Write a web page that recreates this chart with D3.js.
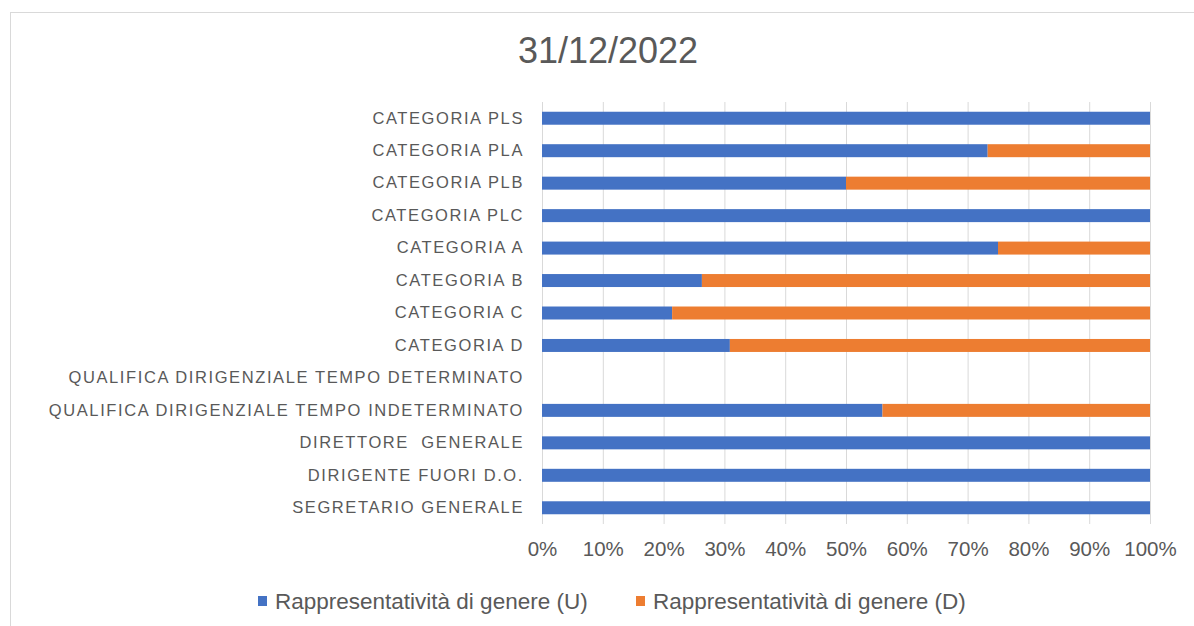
<!DOCTYPE html>
<html>
<head>
<meta charset="utf-8">
<script src="https://cdn.jsdelivr.net/npm/d3@7"></script>
<style>
  body { margin: 0; background: #fff; }
  svg { display: block; font-family: "Liberation Sans", Arial, sans-serif; }
</style>
</head>
<body>
<div id="chart"></div>
<script>
// categories, top to bottom
const categories = [
    "CATEGORIA PLS",
    "CATEGORIA PLA",
    "CATEGORIA PLB",
    "CATEGORIA PLC",
    "CATEGORIA A",
    "CATEGORIA B",
    "CATEGORIA C",
    "CATEGORIA D",
    "QUALIFICA DIRIGENZIALE TEMPO DETERMINATO",
    "QUALIFICA DIRIGENZIALE TEMPO INDETERMINATO",
    "DIRETTORE  GENERALE",
    "DIRIGENTE FUORI D.O.",
    "SEGRETARIO GENERALE"
];
// share in percent
const uomini = [100, 73.3, 50, 100, 75, 26.3, 21.4, 30.9, 0, 56, 100, 100, 100];
const donne  = [0, 26.7, 50, 0, 25, 73.7, 78.6, 69.1, 0, 44, 0, 0, 0];
const seriesNames = ["Rappresentatività di genere (U)", "Rappresentatività di genere (D)"];
const seriesColors = ["#4472C4", "#ED7D31"];
const xTicks = [0, 10, 20, 30, 40, 50, 60, 70, 80, 90, 100];
const title = "31/12/2022";

const width = 1194, height = 626;
const margin = { top: 102, right: 44, bottom: 102, left: 542 };

const svg = d3.select("#chart").append("svg")
    .attr("width", width)
    .attr("height", height);

// chart frame
svg.append("rect")
    .attr("x", 10.5).attr("y", 12.5)
    .attr("width", 1300).attr("height", 800)
    .attr("fill", "#fff")
    .attr("stroke", "#d9d9d9");

svg.append("text")
    .attr("x", 608).attr("y", 63)
    .attr("text-anchor", "middle")
    .attr("font-size", 36)
    .attr("fill", "#595959")
    .text(title);

const x = d3.scaleLinear().domain([0, 100]).range([margin.left, width - margin.right]);
const y = d3.scaleBand().domain(categories)
    .range([margin.top, height - margin.bottom])
    .paddingInner(0.6).paddingOuter(0.3);

// gridlines
svg.append("g")
    .selectAll("line")
    .data(xTicks)
    .join("line")
    .attr("x1", d => x(d) + 0.5).attr("x2", d => x(d) + 0.5)
    .attr("y1", margin.top).attr("y2", height - margin.bottom)
    .attr("stroke", "#d9d9d9");

const rows = categories.map((c, i) => ({ cat: c, U: uomini[i], D: donne[i] }));
const stacked = d3.stack().keys(["U", "D"])(rows);

svg.append("g")
    .selectAll("g")
    .data(stacked)
    .join("g")
    .attr("fill", (d, i) => seriesColors[i])
    .selectAll("rect")
    .data(d => d)
    .join("rect")
    .attr("x", d => x(d[0]))
    .attr("y", d => y(d.data.cat))
    .attr("width", d => x(d[1]) - x(d[0]))
    .attr("height", y.bandwidth());

// category axis
const yAxis = svg.append("g")
    .attr("transform", `translate(${margin.left - 18},0)`)
    .call(d3.axisLeft(y).tickSize(0).tickPadding(0));
yAxis.select(".domain").remove();
yAxis.selectAll("text")
    .attr("font-size", 16.5)
    .attr("fill", "#595959")
    .attr("font-family", "\"Liberation Sans\", Arial, sans-serif")
    .attr("letter-spacing", "1.6px")
    .style("white-space", "pre");

// value axis
const xAxis = svg.append("g")
    .attr("transform", `translate(0,${height - margin.bottom})`)
    .call(d3.axisBottom(x).tickValues(xTicks).tickFormat(d => d + "%").tickSize(0).tickPadding(17));
xAxis.select(".domain").remove();
xAxis.selectAll("text")
    .attr("font-size", 20.5)
    .attr("fill", "#595959")
    .attr("font-family", "\"Liberation Sans\", Arial, sans-serif");

// legend
const legendX = [258, 636];
const legend = svg.append("g")
    .selectAll("g")
    .data(seriesNames)
    .join("g")
    .attr("transform", (d, i) => `translate(${legendX[i]},601)`);
legend.append("rect")
    .attr("x", 0).attr("y", -5)
    .attr("width", 9).attr("height", 10)
    .attr("fill", (d, i) => seriesColors[i]);
legend.append("text")
    .attr("x", 17).attr("y", 7.5)
    .attr("font-size", 22.5)
    .attr("fill", "#595959")
    .text(d => d);
</script>
</body>
</html>
